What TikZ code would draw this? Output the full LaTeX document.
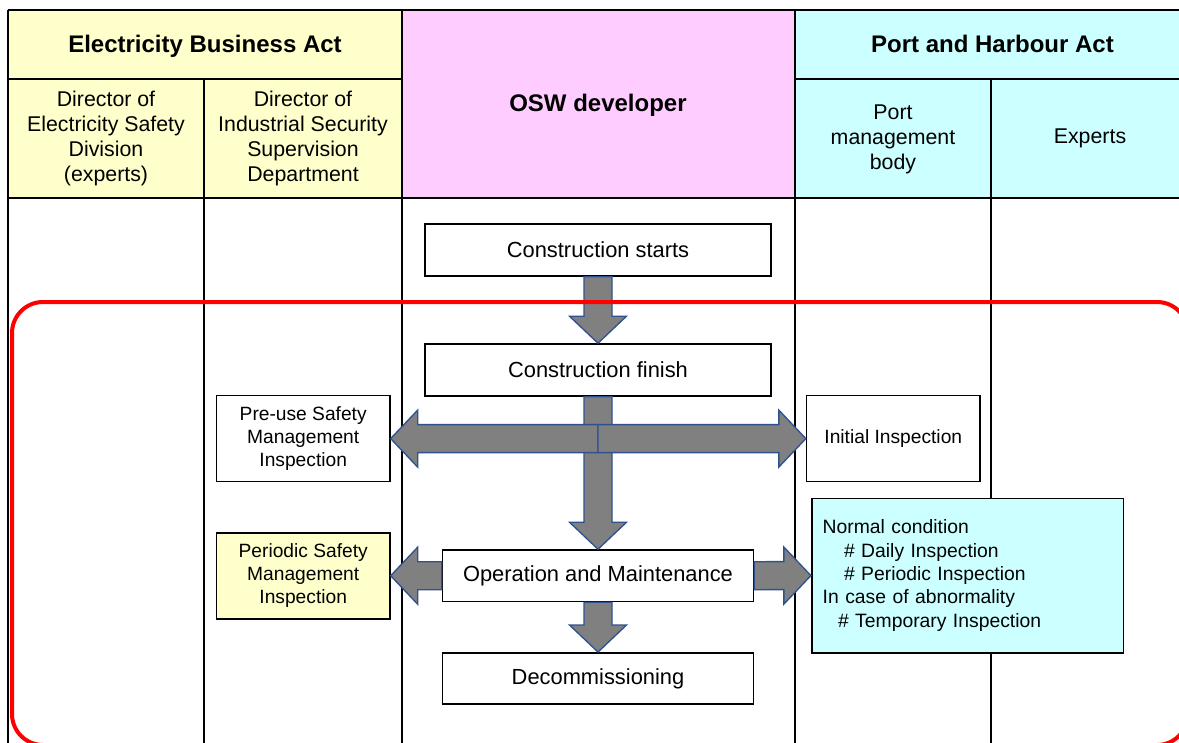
\documentclass[tikz,border=0pt]{standalone}
\usepackage{fontspec}
\setmainfont{Liberation Sans}
\usetikzlibrary{calc}
\definecolor{hdyellow}{HTML}{FFFFCC}
\definecolor{hdpink}{HTML}{FFCCFF}
\definecolor{hdcyan}{HTML}{CCFFFF}
\definecolor{arrgray}{HTML}{808080}
\definecolor{arrblue}{HTML}{2F528F}
\newcommand\arrdown[2]{\draw[blockarr] ($(#1)+(-14,0)$) -- ($(#2)+(-14,-27)$) -- ($(#2)+(-28.5,-27)$) -- (#2) -- ($(#2)+(28.5,-27)$) -- ($(#2)+(14,-27)$) -- ($(#1)+(14,0)$) -- cycle;}
\newcommand\arrleft[2]{\draw[blockarr] ($(#1)+(0,-14)$) -- ($(#2)+(27,-14)$) -- ($(#2)+(27,-28.5)$) -- (#2) -- ($(#2)+(27,28.5)$) -- ($(#2)+(27,14)$) -- ($(#1)+(0,14)$) -- cycle;}
\newcommand\arrright[2]{\draw[blockarr] ($(#1)+(0,-14)$) -- ($(#2)+(-27,-14)$) -- ($(#2)+(-27,-28.5)$) -- (#2) -- ($(#2)+(-27,28.5)$) -- ($(#2)+(-27,14)$) -- ($(#1)+(0,14)$) -- cycle;}
\tikzset{
  tbl/.style={line width=1.7pt},
  hdr/.style={font=\fontsize{18}{21}\selectfont\bfseries, align=center, inner sep=0pt, anchor=base},
  subhdr/.style={font=\fontsize{16}{18.75}\selectfont, align=center, inner sep=0pt},
  flowbox/.style={draw, line width=1.2pt, fill=white, minimum width=259.5pt, minimum height=39pt, inner sep=0pt, font=\fontsize{16.4}{19}\selectfont},
  opbox/.style={flowbox, minimum width=233.25pt, minimum height=38.5pt},
  sidebox/.style={draw, line width=1.2pt, fill=white, minimum width=130pt, minimum height=64.5pt, inner sep=0pt, align=center, font=\fontsize{14.4}{17.25}\selectfont},
  notebox/.style={draw, line width=1.2pt, fill=hdcyan, minimum width=233.7pt, minimum height=115.8pt, inner xsep=8.25pt, inner ysep=0pt, text width=217.2pt, align=left, font=\fontsize{14.5}{17.5}\selectfont},
  blockarr/.style={fill=arrgray, draw=arrblue, line width=1pt, line join=miter},
  redframe/.style={draw=red, line width=3pt, rounded corners=23.25pt}
}
\begin{document}
\begin{tikzpicture}[x=0.75pt,y=-0.75pt]
\useasboundingbox (0,0) rectangle (1179,743);
\fill[white] (0,0) rectangle (1179,743);
% header fills
\fill[hdyellow] (8,10) rectangle (402,198);
\fill[hdpink] (402,10) rectangle (795,198);
\fill[hdcyan] (795,10) rectangle (1190,198);
% grid
\draw[tbl] (8,10) -- (1190,10);
\draw[tbl] (8,79) -- (402,79);
\draw[tbl] (795,79) -- (1190,79);
\draw[tbl] (8,198) -- (1190,198);
\draw[tbl] (8,10) -- (8,760);
\draw[tbl] (402,10) -- (402,760);
\draw[tbl] (795,10) -- (795,760);
\draw[tbl] (204,79) -- (204,760);
\draw[tbl] (991,79) -- (991,760);
% header texts
\node[hdr] (eba) at (205,52) {Electricity Business Act};
\node[hdr] (osw) at (598,111.5) {OSW developer};
\node[hdr] (pha) at (992.5,52) {Port and Harbour Act};
\node[subhdr] (dir1) at (106,138) {Director of\\Electricity Safety\\Division\\(experts)};
\node[subhdr] (dir2) at (303,138) {Director of\\Industrial Security\\Supervision\\Department};
\node[subhdr] (pmb) at (893,139) {Port\\management\\body};
\node[subhdr] (exps) at (1090,138) {Experts};
% flow boxes
\node[flowbox] (cstart) at (598,250) {Construction starts};
\node[flowbox] (cfin) at (598,370) {Construction finish};
\node[sidebox] (preuse) at (303.2,438.6) {Pre-use Safety\\Management\\Inspection};
\node[sidebox, fill=hdyellow] (periodic) at (303.2,575.7) {Periodic Safety\\Management\\Inspection};
\node[sidebox] (initial) at (893.3,438.6) {Initial Inspection};
\node[opbox] (om) at (598,575.7) {Operation and Maintenance};
\node[opbox] (decom) at (598,678.5) {Decommissioning};
\node[notebox] (note) at (967.5,575.6) {Normal condition\\\hspace*{16pt}\# Daily Inspection\\\hspace*{16pt}\# Periodic Inspection\\In case of abnormality\\\hspace*{11.5pt}\# Temporary Inspection};
% arrows
\coordinate (hub) at (cfin.south |- preuse.east);
\arrdown{cstart.south}{cfin.north}
\arrdown{cfin.south}{om.north}
\arrleft{hub}{preuse.east}
\arrright{hub}{initial.west}
\arrleft{om.west}{periodic.east}
\arrright{om.east}{note.west}
\arrdown{om.south}{decom.north}
% red frame
\draw[redframe] (12,302) rectangle (1188,745);
\end{tikzpicture}
\end{document}
